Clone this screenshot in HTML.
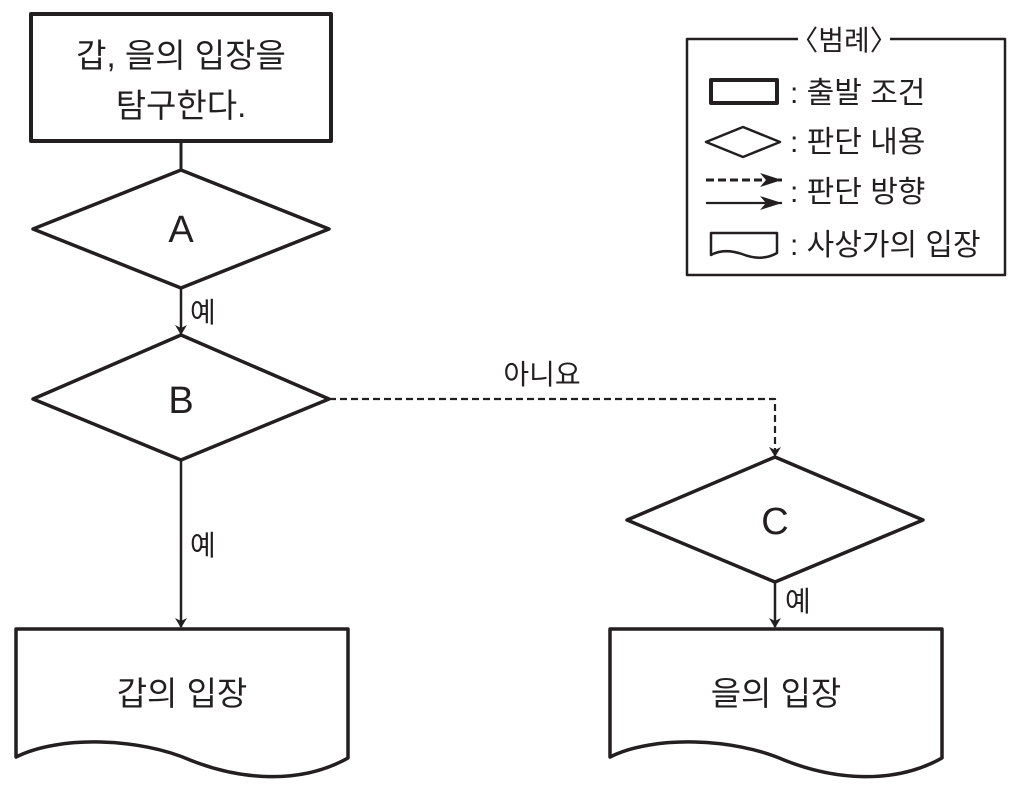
<!DOCTYPE html>
<html><head><meta charset="utf-8"><style>
html,body{margin:0;padding:0;background:#fff;}
svg{display:block;}
text{font-family:"Liberation Sans","Noto Sans CJK KR",sans-serif;fill:#231f20;}
</style></head><body>
<svg width="1019" height="786" viewBox="0 0 1019 786" xmlns="http://www.w3.org/2000/svg">
<defs>
<marker id="ah" markerWidth="10" markerHeight="12" refX="9" refY="6" orient="auto" markerUnits="userSpaceOnUse">
<path d="M0,0 L10,6 L0,12 L3,6 Z" fill="#231f20"/></marker>
<marker id="ah2" markerWidth="22" markerHeight="14" refX="22" refY="7" orient="auto" markerUnits="userSpaceOnUse">
<path d="M0,0 L22,7 L0,14 L6,7 Z" fill="#231f20"/></marker>
</defs>
<g stroke="#231f20" fill="none" stroke-linejoin="round">
<rect x="31" y="14" width="300" height="127" stroke-width="4" fill="#fff"/>
<line x1="181" y1="141" x2="181" y2="170" stroke-width="3"/>
<polygon points="181,170 329,229 181,288 33,229" stroke-width="3.5"/>
<line x1="181" y1="288" x2="181" y2="334" stroke-width="2.5" marker-end="url(#ah)"/>
<polygon points="181,335 329,399 181,460 33,399" stroke-width="3.5"/>
<line x1="181" y1="460" x2="181" y2="627" stroke-width="2.5" marker-end="url(#ah)"/>
<polyline points="329,399 775,399 775,456" stroke-width="2.2" stroke-dasharray="7,4" marker-end="url(#ah)"/>
<polygon points="775,457 923,520 775,582 627,520" stroke-width="3.5"/>
<line x1="775" y1="582" x2="775" y2="627" stroke-width="2.5" marker-end="url(#ah)"/>
<path d="M16,629 H348 V758 C300,785 240,780 190,760 C140,738 60,735 16,757 Z" stroke-width="3.5"/>
<path d="M610,629 H942 V758 C894,785 834,780 784,760 C734,738 654,735 610,757 Z" stroke-width="3.5"/>
<path d="M798,39 H687 V275 H1005 V39 H890" stroke-width="2.5"/>
<rect x="711" y="80" width="66" height="23" stroke-width="4"/>
<polygon points="743,127 780,142 743,157 706,142" stroke-width="2.5"/>
<line x1="706" y1="180" x2="782" y2="180" stroke-width="3" stroke-dasharray="8,4" marker-end="url(#ah2)"/>
<line x1="706" y1="203" x2="782" y2="203" stroke-width="2.2" marker-end="url(#ah2)"/>
<path d="M711,233 H777 V253 C765,260 752,258 742,254 C730,250 720,250 711,255 Z" stroke-width="2.5"/>
</g>
<text x="181" y="67" font-size="33" text-anchor="middle">갑, 을의 입장을</text>
<text x="181" y="117" font-size="33" text-anchor="middle">탐구한다.</text>
<text x="181" y="242" font-size="38" text-anchor="middle">A</text>
<text x="181" y="413" font-size="38" text-anchor="middle">B</text>
<text x="775" y="534" font-size="38" text-anchor="middle">C</text>
<text x="190" y="322" font-size="28">예</text>
<text x="190" y="555" font-size="28">예</text>
<text x="785" y="611" font-size="28">예</text>
<text x="542" y="384" font-size="28" text-anchor="middle">아니요</text>
<text x="182" y="705" font-size="33" text-anchor="middle">갑의 입장</text>
<text x="776" y="705" font-size="33" text-anchor="middle">을의 입장</text>
<text x="844" y="50" font-size="28" text-anchor="middle">〈범례〉</text>
<text x="790" y="103" font-size="30">: 출발 조건</text>
<text x="790" y="152" font-size="30">: 판단 내용</text>
<text x="790" y="202" font-size="30">: 판단 방향</text>
<text x="790" y="255" font-size="30">: 사상가의 입장</text>
</svg>
</body></html>
